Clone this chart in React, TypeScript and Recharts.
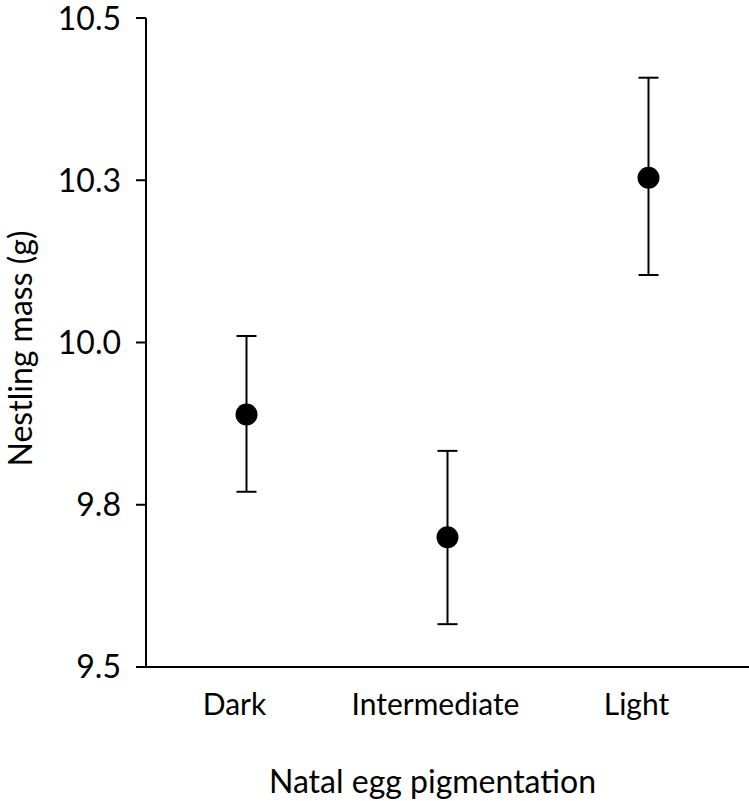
import { LineChart, Line, XAxis, YAxis, ErrorBar, Label } from "recharts";

const categories = ["Dark", "Intermediate", "Light"];
const means = [9.889, 9.7, 10.254];
const upper = [10.01, 9.833, 10.408];
const lower = [9.77, 9.566, 10.104];
const yTicks = [9.5, 9.75, 10, 10.25, 10.5];

const data = categories.map((name, i) => ({
  name,
  mean: means[i],
  err: [means[i] - lower[i], upper[i] - means[i]],
}));

const FONT = "Lato, 'Open Sans', sans-serif";

export default function App() {
  return (
    <div style={{ position: "absolute", left: 0, top: 0, background: "#fff" }}>
      <LineChart
        width={749}
        height={801}
        data={data}
        margin={{ top: 18, right: 0, bottom: 0, left: 0 }}
        style={{ fontFamily: FONT }}
      >
        <XAxis
          dataKey="name"
          height={134}
          padding={{ left: 100.5, right: 100.5 }}
          axisLine={{ stroke: "#000", strokeWidth: 2 }}
          tickLine={false}
          tickSize={0}
          tickMargin={27}
          tick={{ fill: "#000", fontSize: 30, dx: -12 }}
        >
          <Label
            value="Natal egg pigmentation"
            position="insideBottom"
            offset={8}
            dx={-15}
            style={{ fill: "#000", fontSize: 32, fontFamily: FONT }}
          />
        </XAxis>
        <YAxis
          width={146}
          domain={[9.5, 10.5]}
          ticks={yTicks}
          tickFormatter={(v: number) => v.toFixed(1)}
          axisLine={{ stroke: "#000", strokeWidth: 2 }}
          tickLine={{ stroke: "#000", strokeWidth: 2 }}
          tickSize={10}
          tickMargin={15}
          tick={{ fill: "#000", fontSize: 32 }}
        >
          <Label
            value="Nestling mass (g)"
            angle={-90}
            position="insideLeft"
            offset={0}
            dx={21}
            dy={6}
            style={{ fill: "#000", fontSize: 32, fontFamily: FONT, textAnchor: "middle" }}
          />
        </YAxis>
        <Line
          dataKey="mean"
          stroke="none"
          isAnimationActive={false}
          dot={{ r: 11, fill: "#000", stroke: "#000", strokeWidth: 0 }}
          activeDot={false}
        >
          <ErrorBar dataKey="err" width={10} stroke="#000" strokeWidth={2} direction="y" />
        </Line>
      </LineChart>
    </div>
  );
}
